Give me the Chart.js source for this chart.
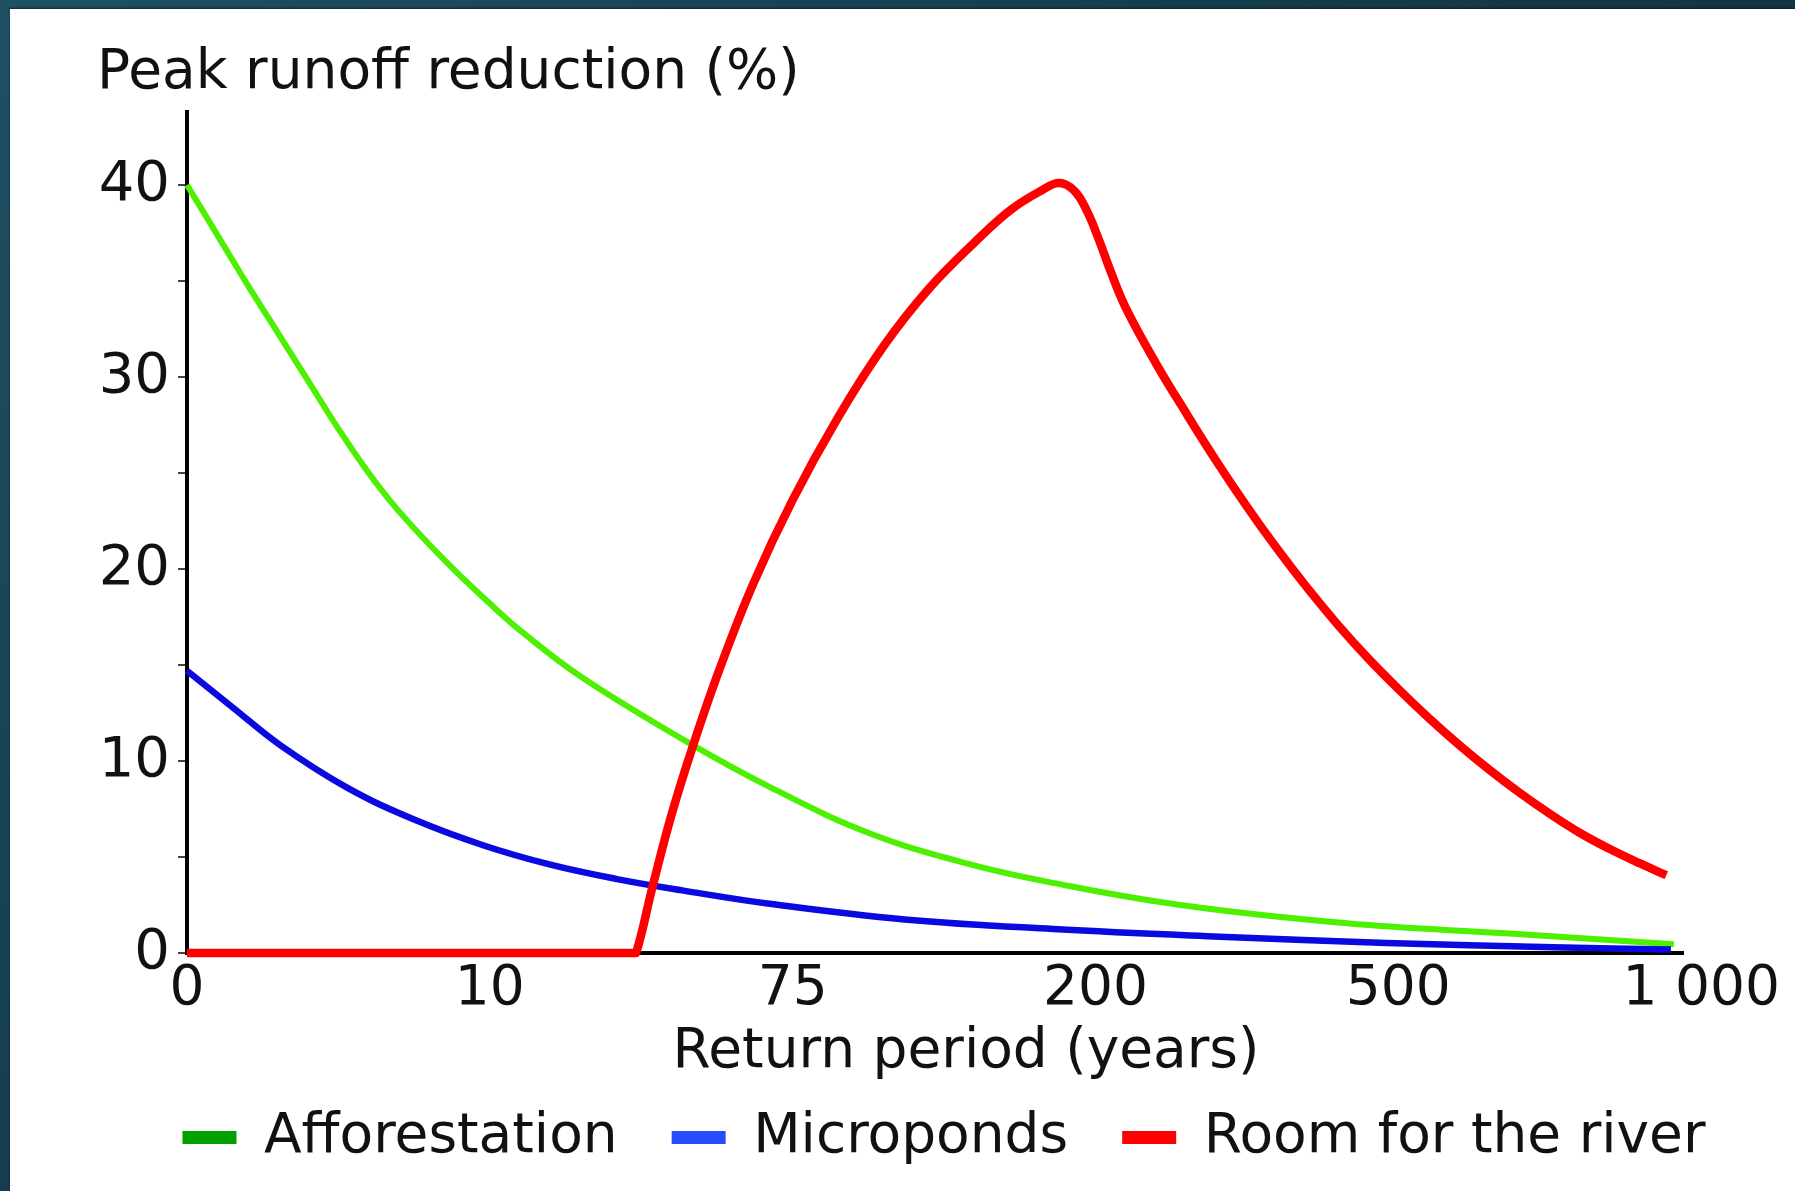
<!DOCTYPE html>
<html>
<head>
<meta charset="utf-8">
<script src="https://cdn.jsdelivr.net/npm/chart.js@4.4.1/dist/chart.umd.min.js"></script>
<style>
  html, body { margin: 0; padding: 0; }
  body {
    width: 1795px; height: 1191px; overflow: hidden;
    background: linear-gradient(135deg, #1f5064 0%, #163d4d 40%, #0c2230 100%);
    position: relative;
  }
  #panel {
    position: absolute; left: 10px; top: 9px; width: 1785px; height: 1182px;
    background: #ffffff;
    box-shadow: 0 -1px 2px rgba(0,0,0,0.5);
  }
  canvas { display: block; }
</style>
</head>
<body>
<div id="panel"><canvas id="c" width="1785" height="1182"></canvas></div>
<script>
// ---- data (x is the position along the return-period axis, in tick steps) ----
const xTickValues = [0, 1, 2, 3, 4, 5];
const xTickLabels = ['0', '10', '75', '200', '500', '1 000'];
const yTickValues = [0, 5, 10, 15, 20, 25, 30, 35, 40];

const seriesNames = ['Afforestation', 'Microponds', 'Room for the river'];

const afforestationX = [0, 0.1, 0.2, 0.3, 0.4, 0.5, 0.6, 0.7, 0.86, 1.0, 1.1, 1.3, 1.64, 1.93, 2.26, 2.59, 2.86, 3.28, 3.83, 4.38, 4.91];
const afforestationY = [40.0, 37.4, 34.8, 32.3, 29.8, 27.3, 25.0, 23.0, 20.3, 18.2, 16.8, 14.4, 11.1, 8.6, 6.2, 4.6, 3.65, 2.5, 1.55, 1.0, 0.45];

const micropondsX = [0, 0.15, 0.31, 0.53, 0.75, 0.98, 1.2, 1.42, 1.64, 1.93, 2.37, 2.86, 3.41, 3.96, 4.51, 4.9];
const micropondsY = [14.7, 12.8, 10.8, 8.6, 6.95, 5.6, 4.6, 3.85, 3.25, 2.55, 1.75, 1.25, 0.85, 0.52, 0.3, 0.18];

const riverX = [0, 1.47, 1.483, 1.538, 1.6, 1.671, 1.759, 1.869, 2.0, 2.15, 2.3, 2.45, 2.6, 2.72, 2.82, 2.88, 2.93, 2.97, 3.01, 3.05, 3.1, 3.2, 3.3, 3.4, 3.5, 3.6, 3.7, 3.8, 3.9, 4.0, 4.1, 4.2, 4.3, 4.4, 4.5, 4.6, 4.7, 4.8, 4.885];
const riverY = [0, 0, 0, 3.5, 7.2, 10.8, 14.8, 19.2, 23.6, 27.9, 31.6, 34.6, 37.0, 38.7, 39.7, 40.1, 39.7, 38.7, 37.2, 35.5, 33.6, 30.7, 28.1, 25.6, 23.25, 21.05, 19.0, 17.1, 15.35, 13.75, 12.25, 10.85, 9.55, 8.35, 7.25, 6.25, 5.4, 4.65, 4.05];

const lineColors = ['#4cf000', '#0a0ae0', '#ff0000'];
const legendColors = ['#00a000', '#2a4cff', '#ff0000'];

const toPoints = (xs, ys) => xs.map((x, i) => ({ x: x, y: ys[i] }));

Chart.defaults.font.family = "'DejaVu Sans', Verdana, sans-serif";
Chart.defaults.color = '#111';

const X_TITLE_SHIFT = 31;
const LEGEND_SHIFT = -2;
const layoutTweaks = {
  id: 'layoutTweaks',
  afterLayout(chart) {
    const s = chart.scales.x;
    if (s && !s._shiftWrapped) {
      const orig = s.drawTitle;
      s.drawTitle = function () {
        const ctx = this.ctx;
        ctx.save();
        ctx.translate(X_TITLE_SHIFT, 0);
        orig.apply(this, arguments);
        ctx.restore();
      };
      s._shiftWrapped = true;
    }
    const lg = chart.legend;
    if (lg) { lg.left += LEGEND_SHIFT; lg.right += LEGEND_SHIFT; }
  }
};

new Chart(document.getElementById('c'), {
  type: 'line',
  data: {
    datasets: [
      { label: seriesNames[0], data: toPoints(afforestationX, afforestationY),
        borderColor: lineColors[0], backgroundColor: legendColors[0], borderWidth: 6, order: 3 },
      { label: seriesNames[1], data: toPoints(micropondsX, micropondsY),
        borderColor: lineColors[1], backgroundColor: legendColors[1], borderWidth: 6.5, order: 2 },
      { label: seriesNames[2], data: toPoints(riverX, riverY),
        borderColor: lineColors[2], backgroundColor: legendColors[2], borderWidth: 8.5, order: 1 }
    ]
  },
  options: {
    responsive: false,
    animation: false,
    devicePixelRatio: 1,
    layout: { padding: { left: 87, right: 0, top: 32, bottom: 16 } },
    elements: {
      point: { radius: 0, hoverRadius: 0 },
      line: { tension: 0.4, fill: false, borderJoinStyle: 'round', borderCapStyle: 'butt' }
    },
    datasets: { line: { clip: false } },
    plugins: {
      tooltip: { enabled: false },
      title: {
        display: true,
        text: 'Peak runoff reduction (%)',
        align: 'start',
        color: '#111',
        font: { size: 55, weight: 'normal', lineHeight: 1.2 },
        padding: { top: 0, bottom: 5 }
      },
      legend: {
        position: 'bottom',
        align: 'center',
        labels: {
          font: { size: 55 },
          color: '#111',
          boxWidth: 54,
          boxHeight: 13,
          padding: 54,
          sort: (a, b) => a.datasetIndex - b.datasetIndex,
          generateLabels(chart) {
            const items = Chart.defaults.plugins.legend.labels.generateLabels(chart);
            items.forEach((it) => {
              it.fillStyle = legendColors[it.datasetIndex];
              it.strokeStyle = legendColors[it.datasetIndex];
              it.lineWidth = 0;
            });
            return items;
          }
        }
      }
    },
    scales: {
      x: {
        type: 'linear',
        min: 0,
        max: 4.94,
        afterBuildTicks(scale) { scale.ticks = xTickValues.map(v => ({ value: v })); },
        afterFit(scale) { scale.height = 103; },
        ticks: {
          autoSkip: false,
          maxRotation: 0,
          padding: 4,
          color: '#111',
          font: { size: 55, lineHeight: 1.2 },
          callback: (value, index) => xTickLabels[index]
        },
        grid: { display: false, drawTicks: false },
        border: { display: true, color: '#000', width: 4 },
        title: {
          display: true,
          text: 'Return period (years)',
          color: '#111',
          font: { size: 55, lineHeight: 1.2 },
          padding: { top: 0, bottom: -30 }
        }
      },
      y: {
        type: 'linear',
        min: 0,
        max: 43.8,
        afterBuildTicks(scale) { scale.ticks = yTickValues.map(v => ({ value: v })); },
        afterFit(scale) { scale.width = 90; },
        ticks: {
          padding: 8,
          color: '#111',
          font: { size: 56 },
          callback: (value) => (value % 10 === 0 ? String(value) : '')
        },
        grid: { display: true, drawOnChartArea: false, drawTicks: true, tickLength: 9, color: '#444', lineWidth: 2 },
        border: { display: true, color: '#000', width: 4 }
      },
      yRightSpace: {
        type: 'linear',
        position: 'right',
        display: true,
        afterFit(scale) { scale.width = 112; },
        ticks: { display: false },
        grid: { display: false, drawTicks: false },
        border: { display: false }
      }
    }
  },
  plugins: [layoutTweaks]
});
</script>
</body>
</html>
